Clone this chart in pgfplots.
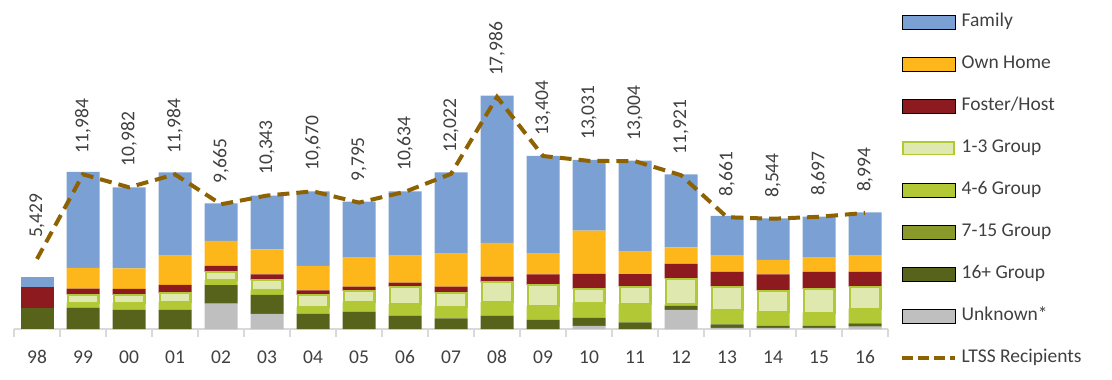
\documentclass[border=0pt]{standalone}
\usepackage{pgfplots}
\pgfplotsset{compat=1.18}
\usepackage{fontspec}
\setmainfont{Carlito}
\definecolor{cFamily}{RGB}{123,161,212}
\definecolor{cOwn}{RGB}{253,183,26}
\definecolor{cFoster}{RGB}{140,26,30}
\definecolor{cOneThree}{RGB}{223,232,174}
\definecolor{cFourSix}{RGB}{178,201,53}
\definecolor{cSevenFifteen}{RGB}{138,154,42}
\definecolor{cSixteen}{RGB}{87,98,27}
\definecolor{cUnknown}{RGB}{191,191,191}
\definecolor{cLTSS}{RGB}{142,98,0}
\definecolor{cAxis}{RGB}{217,217,217}
\definecolor{cText}{RGB}{64,64,64}
\newcommand{\chartfont}{\fontsize{19.5bp}{23bp}\selectfont}
\pgfplotsset{
  base/.style={
    scale only axis, width=874bp, height=329bp,
    xmin=-0.5, xmax=18.5, ymin=0, ymax=25497.5,
    /pgf/number format/assume math mode=true,
  }
}
\begin{document}
\begin{tikzpicture}
\useasboundingbox (-14bp,-51bp) rectangle (1098bp,329bp);
% bars for 99 .. 16
\begin{axis}[base,
  ybar stacked, bar width=33bp,
  hide y axis, axis x line*=bottom,
  x axis line style={draw=cAxis, line width=1.2bp},
  xtick={0,...,18},
  xticklabels={98,99,00,01,02,03,04,05,06,07,08,09,10,11,12,13,14,15,16},
  major tick length=0pt,
  minor xtick={-0.5,0.5,...,18.5},
  minor tick length=8bp, tick align=outside,
  minor tick style={draw=cAxis, line width=1.2bp},
  xticklabel style={font=\chartfont, text=cText, anchor=center, yshift=-28bp},
]
% Unknown*
\addplot[fill=cUnknown, draw=none] coordinates {(1,0) (2,0) (3,0) (4,1961) (5,1163) (6,0) (7,0) (8,0) (9,0) (10,0) (11,0) (12,233) (13,0) (14,1473) (15,78) (16,78) (17,78) (18,178)};
% 16+ Group
\addplot[fill=cSixteen, draw=none] coordinates {(1,1651) (2,1473) (3,1473) (4,1449) (5,1473) (6,1163) (7,1341) (8,1031) (9,829) (10,1031) (11,698) (12,620) (13,519) (14,310) (15,287) (16,155) (17,155) (18,264)};
% 7-15 Group
\addplot[fill=cSevenFifteen, draw=none] coordinates {(1,0) (2,0) (3,0) (4,0) (5,0) (6,0) (7,0) (8,0) (9,0) (10,0) (11,0) (12,0) (13,0) (14,0) (15,0) (16,0) (17,0) (18,0)};
% 4-6 Group
\addplot[fill=cFourSix, draw=none] coordinates {(1,388) (2,566) (3,597) (4,388) (5,388) (6,566) (7,729) (8,884) (9,899) (10,1062) (11,1085) (12,1186) (13,1395) (14,132) (15,1108) (16,1085) (17,1031) (18,1132)};
% 1-3 Group
\addplot[fill=cOneThree, draw=cFourSix, line width=2.2bp, bar width=30.8bp] coordinates {(1,620) (2,597) (3,698) (4,620) (5,752) (6,907) (7,876) (8,1364) (9,1085) (10,1527) (11,1628) (12,1062) (13,1364) (14,1984) (15,1806) (16,1651) (17,1837) (18,1705)};
% Foster/Host
\addplot[fill=cFoster, draw=none] coordinates {(1,465) (2,465) (3,643) (4,465) (5,465) (6,364) (7,333) (8,310) (9,465) (10,434) (11,829) (12,1163) (13,984) (14,1139) (15,1139) (16,1271) (17,1318) (18,1139)};
% Own Home
\addplot[fill=cOwn, draw=none] coordinates {(1,1604) (2,1604) (3,2271) (4,1938) (5,1938) (6,1883) (7,2248) (8,2093) (9,2558) (10,2612) (11,1597) (12,3356) (13,1728) (14,1294) (15,1263) (16,1108) (17,1108) (18,1263)};
% Family
\addplot[fill=cFamily, draw=none] coordinates {(1,7440) (2,6278) (3,6464) (4,2922) (5,4154) (6,5789) (7,4340) (8,4991) (9,6309) (10,11416) (11,7572) (12,5479) (13,7053) (14,5658) (15,3077) (16,3232) (17,3178) (18,3364)};
\end{axis}
% bar for 98 (only 16+, Foster/Host and Family)
\begin{axis}[base, hide axis, ybar stacked, bar width=33bp]
\addplot[fill=cSixteen, draw=none] coordinates {(0,1628)};
\addplot[fill=cFoster, draw=none] coordinates {(0,1628)};
\addplot[fill=cFamily, draw=none] coordinates {(0,798)};
\end{axis}
% LTSS recipients line and legend
\begin{axis}[base, hide axis, clip=false,
  legend cell align=left,
  legend style={at={(1.01373,0.9574)}, anchor=north west, draw=none, fill=none,
    inner sep=0pt, row sep=26bp, column sep=5bp,
    nodes={inner sep=0pt, text height=12bp, text depth=4bp, font=\chartfont, text=cText}},
]
\addlegendimage{legend image code/.code={\path[fill=cFamily] (0bp,-7bp) rectangle (53bp,7bp);}}
\addlegendentry{Family}
\addlegendimage{legend image code/.code={\path[fill=cOwn] (0bp,-7bp) rectangle (53bp,7bp);}}
\addlegendentry{Own Home}
\addlegendimage{legend image code/.code={\path[fill=cFoster] (0bp,-7bp) rectangle (53bp,7bp);}}
\addlegendentry{Foster/Host}
\addlegendimage{legend image code/.code={\path[fill=cOneThree, draw=cFourSix, line width=1.6bp] (0.8bp,-6.2bp) rectangle (52.2bp,6.2bp);}}
\addlegendentry{1-3 Group}
\addlegendimage{legend image code/.code={\path[fill=cFourSix] (0bp,-7bp) rectangle (53bp,7bp);}}
\addlegendentry{4-6 Group}
\addlegendimage{legend image code/.code={\path[fill=cSevenFifteen] (0bp,-7bp) rectangle (53bp,7bp);}}
\addlegendentry{7-15 Group}
\addlegendimage{legend image code/.code={\path[fill=cSixteen] (0bp,-7bp) rectangle (53bp,7bp);}}
\addlegendentry{16+ Group}
\addlegendimage{legend image code/.code={\path[fill=cUnknown] (0bp,-7bp) rectangle (53bp,7bp);}}
\addlegendentry{Unknown*}
\addlegendimage{legend image code/.code={\draw[cLTSS, line width=3.5bp, dash pattern=on 11bp off 5bp] (0bp,0bp) -- (53bp,0bp);}}
\addlegendentry{LTSS Recipients}
\addplot[cLTSS, line width=4bp, dash pattern=on 12bp off 7bp, mark=none,
  nodes near coords={\pgfmathprintnumber[1000 sep={,}]{\pgfplotspointmeta}},
  point meta=y,
  every node near coord/.style={rotate=90, anchor=west, inner xsep=19bp, inner ysep=0pt, font=\chartfont, text=cText},
] coordinates {(0,5429) (1,11984) (2,10982) (3,11984) (4,9665) (5,10343) (6,10670) (7,9795) (8,10634) (9,12022) (10,17986) (11,13404) (12,13031) (13,13004) (14,11921) (15,8661) (16,8544) (17,8697) (18,8994)};
\end{axis}
\end{tikzpicture}
\end{document}
